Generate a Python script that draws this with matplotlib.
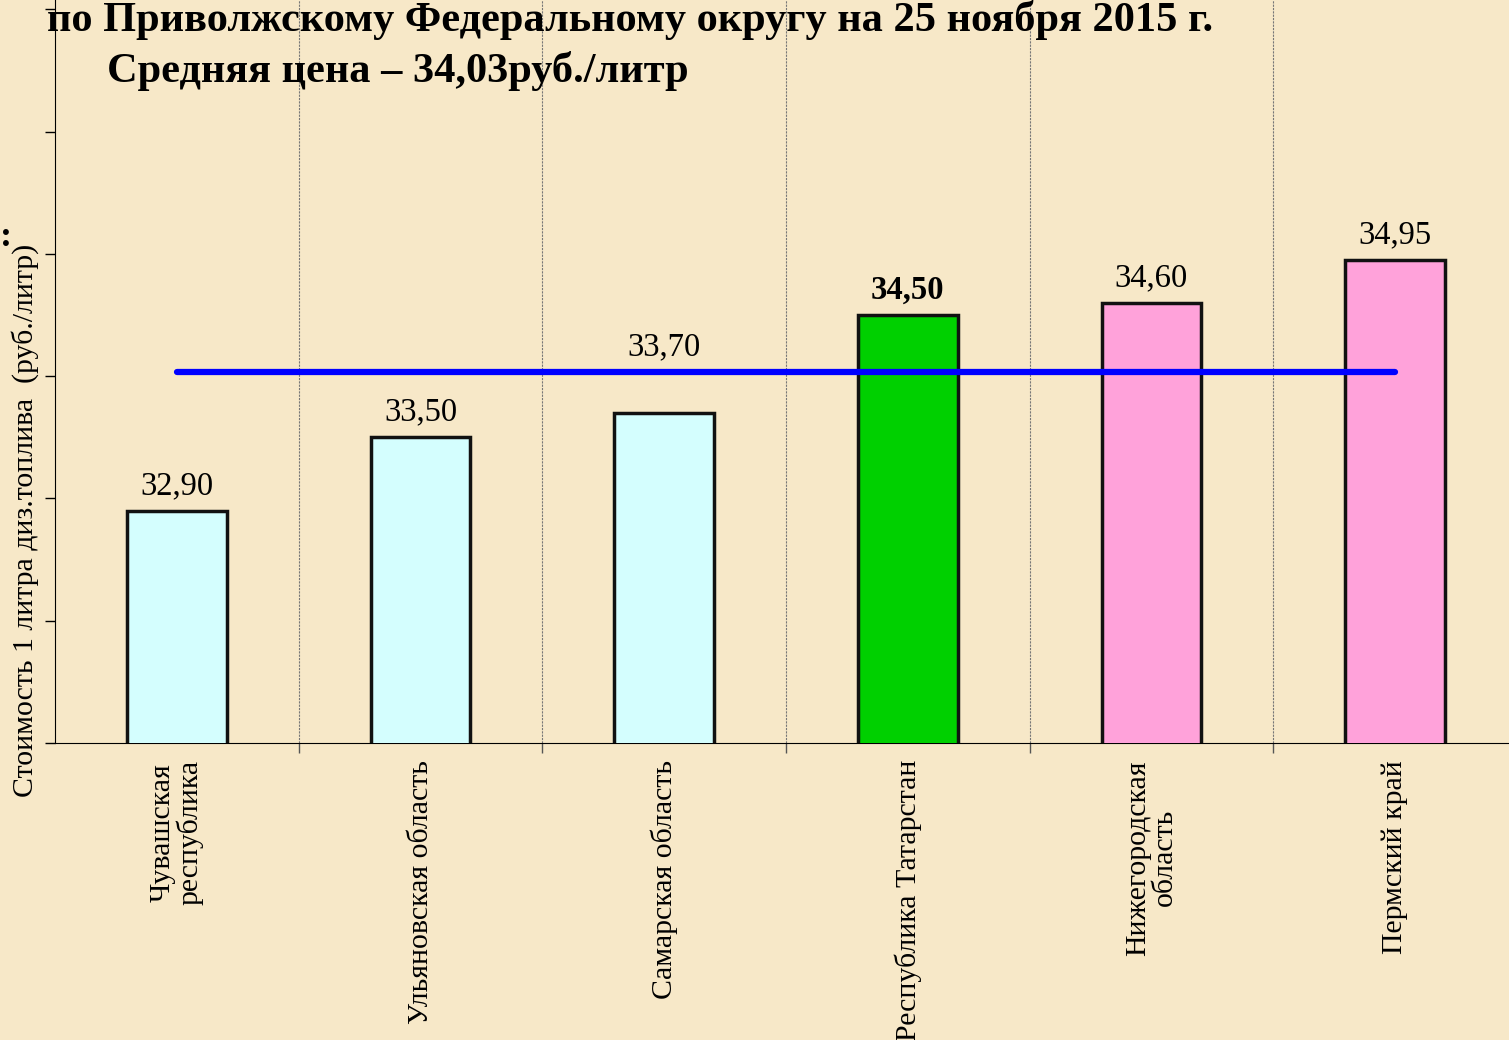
import numpy as np
import matplotlib
matplotlib.use("Agg")
import matplotlib.pyplot as plt

# Data
regions = ["Чувашская\nреспублика", "Ульяновская область", "Самарская область",
           "Республика Татарстан", "Нижегородская\nобласть", "Пермский край"]
prices = [32.90, 33.50, 33.70, 34.50, 34.60, 34.95]
price_labels = ["32,90", "33,50", "33,70", "34,50", "34,60", "34,95"]
bar_colors = ["#D4FEFE", "#D4FEFE", "#D4FEFE", "#00D000", "#FFA2DA", "#FFA2DA"]
average = 34.03

serif = ["Liberation Serif", "DejaVu Serif"]
plt.rcParams['font.family'] = serif

bg = "#F7E8C8"
fig = plt.figure(figsize=(15.09, 10.40), dpi=100, facecolor=bg)
# axes extend past the right and top edges, as in the original slide
ax = fig.add_axes([55 / 1509, 297 / 1040, 1462 / 1509, 743 / 1040])
ax.set_facecolor(bg)

x = np.arange(len(regions))
ax.bar(x, prices, width=0.41, color=bar_colors,
       edgecolor="#111111", linewidth=2.5, zorder=3)
ax.set_ylim(31, 31 + 743 / 122.3)
ax.set_xlim(-0.5, len(regions) - 0.5)

# average line
ax.plot([x[0], x[-1]], [average, average], color="#0000FF", lw=4.5,
        solid_capstyle="round", zorder=4)

# value labels
for i, (v, lab) in enumerate(zip(prices, price_labels)):
    ypos = average if i == 2 else v
    ax.annotate(lab, (x[i], ypos), xytext=(0, 12), textcoords="offset points",
                ha="center", va="baseline", fontsize=23.5,
                fontweight="bold" if i == 3 else "normal", zorder=5)

# axes styling
ax.set_yticks(np.arange(31, 38, 1))
ax.set_yticklabels([])
ax.tick_params(axis="y", direction="out", length=7, width=1)
ax.set_xticks(x[:-1] + 0.5)
ax.set_xticklabels([])
ax.tick_params(axis="x", direction="out", length=7, width=1, colors="#555555")
ax.grid(axis="x", color="#777777", lw=0.8, ls=(0, (2, 1)))
ax.spines["top"].set_visible(False)
ax.spines["right"].set_visible(False)
ax.spines["left"].set_color("black")
ax.spines["bottom"].set_color("black")

for i, name in enumerate(regions):
    ax.text(x[i], 30.86, name, rotation=90, ha="center", va="top",
            multialignment="center", fontsize=21.5, linespacing=1.0)

fig.text(25 / 1509, 0.5, "Стоимость 1 литра диз.топлива  (руб./литр)",
         rotation=90, ha="center", va="center", fontsize=21.5)

fig.text(47 / 1509, 1 - 31 / 1040, "по Приволжскому Федеральному округу на 25 ноября 2015 г.",
         ha="left", va="baseline", fontsize=30.5, fontweight="bold")
fig.text(107 / 1509, 1 - 82 / 1040, "Средняя цена – 34,03руб./литр",
         ha="left", va="baseline", fontsize=30.5, fontweight="bold")
# fragment of slide text at the left edge
fig.text(0, 1 - 238 / 1040, ":", ha="left", va="center",
         fontsize=26, fontweight="bold")

fig.savefig("out.png", dpi=100, facecolor=bg)
